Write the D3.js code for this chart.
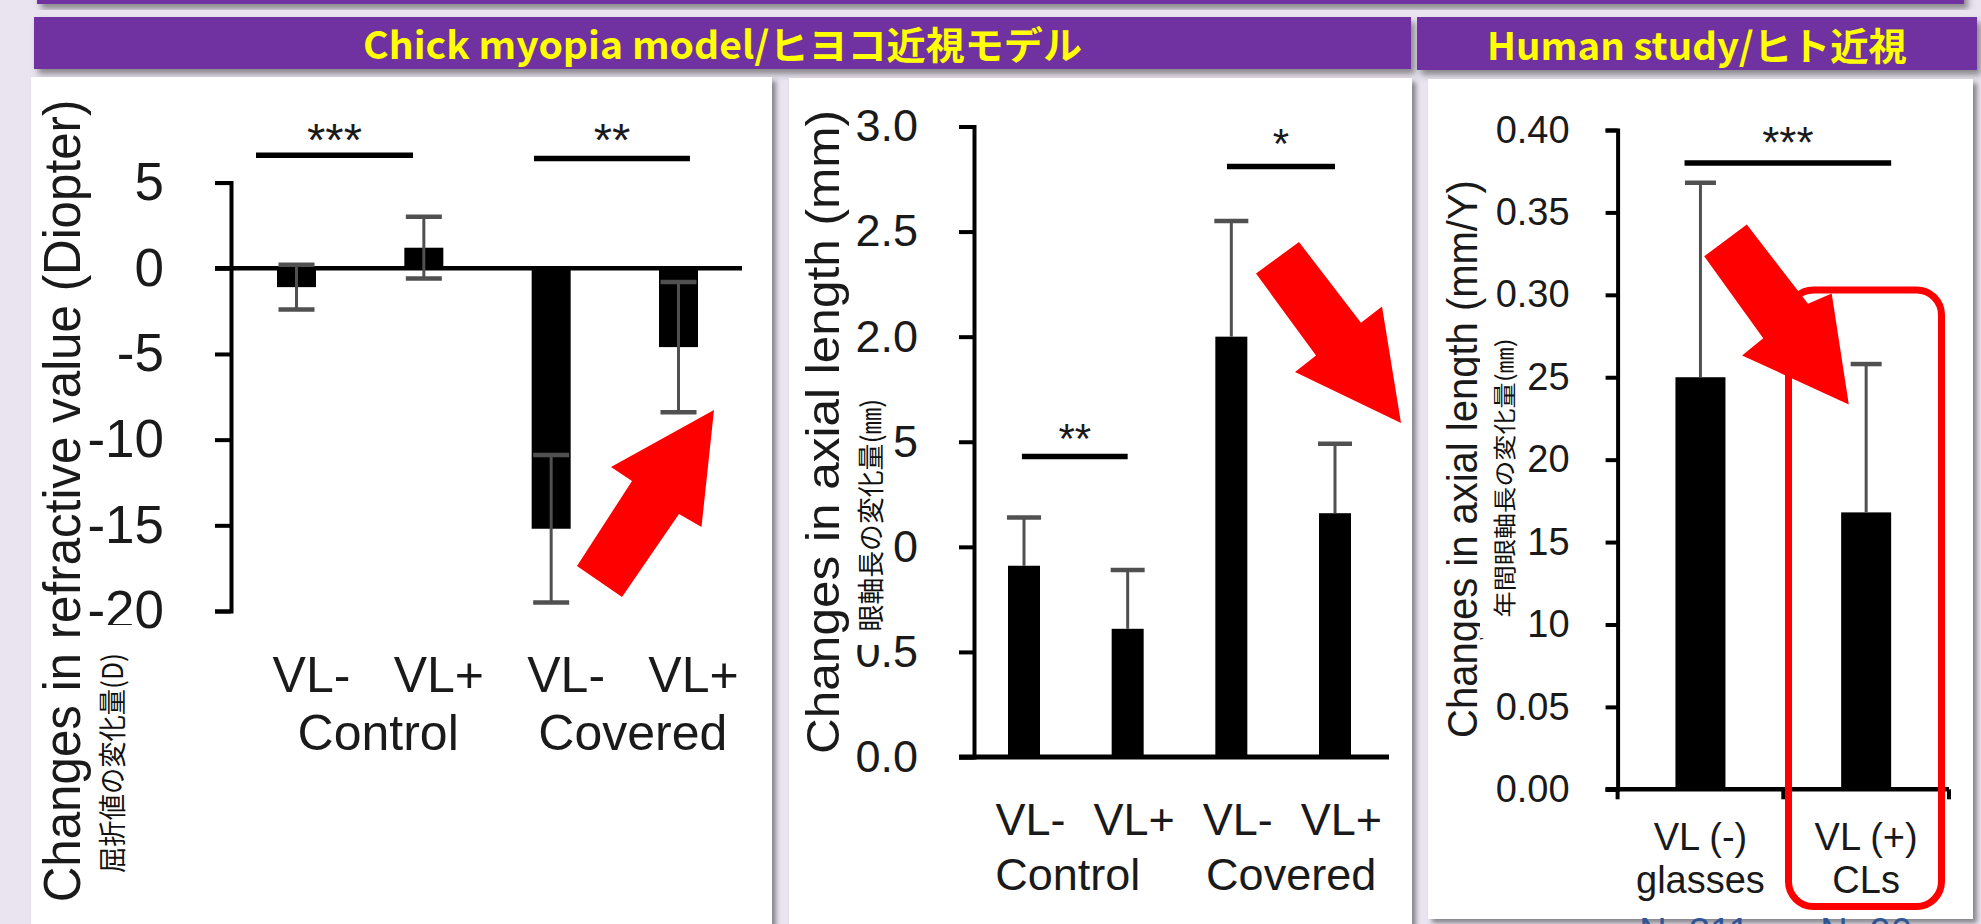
<!DOCTYPE html>
<html>
<head>
<meta charset="utf-8">
<script src="https://cdn.jsdelivr.net/npm/d3@7"></script>
<style>
  html, body { margin: 0; padding: 0; background: #e9e4f0; overflow: hidden; }
  svg { display: block; }
</style>
</head>
<body>
<script>
// ---- Chick myopia model: refraction (D) ----
const chickLight = ["VL-", "VL+", "VL-", "VL+"];
const chickGroup = ["Control", "Covered"];
const refractionMean = [-1.1, 1.2, -15.2, -4.6];
const refractionSD = [1.3, 1.8, 4.3, 3.8];
const refractionTicks = [5, 0, -5, -10, -15, -20];
const refractionSig = ["***", "**"];
const refractionSigLevel = [6.6, 6.4];

// ---- Chick myopia model: axial length (mm) ----
const axialMean = [0.91, 0.61, 2.0, 1.16];
const axialSD = [0.23, 0.28, 0.55, 0.33];
const axialTicks = [3.0, 2.5, 2.0, 1.5, 1.0, 0.5, 0.0];
const axialSig = ["**", "*"];
const axialSigLevel = [1.43, 2.81];

// ---- Human study: axial elongation (mm/Y) ----
const humanGroup = ["VL (-)", "VL (+)"];
const humanDevice = ["glasses", "CLs"];
const humanN = ["N=311", "N=90"];
const humanMean = [0.25, 0.168];
const humanSD = [0.118, 0.090];
const humanTicks = [0.40, 0.35, 0.30, 0.25, 0.20, 0.15, 0.10, 0.05, 0.00];
const humanSig = ["***"];
const humanSigLevel = [0.380];

const W = 1981, H = 924;
const LATIN = "'Liberation Sans', Arial, Helvetica, sans-serif";
const CJK = "'Noto Sans CJK JP', 'Noto Sans', sans-serif";
const RED = "#ff0000";
const PURPLE = "#7030a0";

const svg = d3.select("body").append("svg").attr("width", W).attr("height", H);
svg.append("rect").attr("width", W).attr("height", H).attr("fill", "#e9e4f0");

const defs = svg.append("defs");
const sh = defs.append("filter").attr("id", "shadow")
  .attr("x", "-5%").attr("y", "-5%").attr("width", "115%").attr("height", "130%");
sh.append("feDropShadow").attr("dx", 4).attr("dy", 5).attr("stdDeviation", 3)
  .attr("flood-color", "#3a3a3a").attr("flood-opacity", 0.55);
const psh = defs.append("filter").attr("id", "pshadow")
  .attr("x", "-5%").attr("y", "-5%").attr("width", "110%").attr("height", "110%");
psh.append("feDropShadow").attr("dx", 4).attr("dy", 4).attr("stdDeviation", 2.5)
  .attr("flood-color", "#444").attr("flood-opacity", 0.6);

// ---- banners ----
svg.append("rect").attr("x", 37).attr("y", -20).attr("width", 1927).attr("height", 24)
  .attr("fill", PURPLE).attr("filter", "url(#shadow)");

function banner(x0, x1, y0, y1, label, len) {
  svg.append("rect").attr("x", x0).attr("y", y0).attr("width", x1 - x0).attr("height", y1 - y0)
    .attr("fill", PURPLE).attr("filter", "url(#shadow)");
  svg.append("text").attr("x", (x0 + x1) / 2).attr("y", y1 - 10)
    .attr("text-anchor", "middle").attr("font-family", CJK).attr("font-weight", 700)
    .attr("font-size", 38).attr("fill", "#ffff00")
    .attr("textLength", len).attr("lengthAdjust", "spacingAndGlyphs")
    .text(label);
}
banner(34, 1411, 17, 69, "Chick myopia model/ヒヨコ近視モデル", 719);
banner(1417, 1977, 17, 70, "Human study/ヒト近視", 420);

// ---- white panels ----
const panels = [[31, 77, 772, 1000], [789, 78, 1412, 1000], [1428, 79, 1973, 919]];
panels.forEach(([x0, y0, x1, y1]) => {
  svg.append("rect").attr("x", x0).attr("y", y0).attr("width", x1 - x0).attr("height", y1 - y0)
    .attr("fill", "#fff").attr("filter", "url(#pshadow)");
});

// ---- helpers ----
function leftAxis(scale, ticks, fmt, axX, o) {
  const g = svg.append("g").attr("transform", `translate(${axX},0)`);
  g.call(d3.axisLeft(scale).tickValues(ticks).tickFormat(fmt)
    .tickSize(o.tick).tickPadding(o.pad));
  g.attr("font-family", LATIN).attr("font-size", o.fs);
  g.select(".domain").attr("stroke", "#000").attr("stroke-width", o.sw);
  g.selectAll(".tick line").attr("stroke", "#000").attr("stroke-width", o.sw);
  g.selectAll(".tick text").attr("fill", "#1a1a1a");
  return g;
}
// vertical (bottom-to-top) title, stretched along its run to a given length
function vTitle(x, yMid, label, fs, len, family, fill) {
  const t = svg.append("text")
    .attr("text-anchor", "middle").attr("font-family", family).attr("font-size", fs)
    .attr("fill", fill || "#1a1a1a").text(label);
  const natural = t.node().getComputedTextLength() || len;
  t.attr("transform", `translate(${x},${yMid}) rotate(-90) scale(${len / natural},1)`);
}
function cover(x0, y0, x1, y1) {
  svg.append("rect").attr("x", x0).attr("y", y0).attr("width", x1 - x0).attr("height", y1 - y0)
    .attr("fill", "#fff");
}
function bars(xs, y, means, width) {
  svg.append("g").selectAll("rect").data(means).join("rect")
    .attr("x", (d, i) => xs(i) - width / 2)
    .attr("y", d => Math.min(y(d), y(0)))
    .attr("width", width)
    .attr("height", d => Math.abs(y(d) - y(0)))
    .attr("fill", "#000");
}
function errorBars(xs, y, means, sds, cap, both) {
  const g = svg.append("g").attr("stroke", "#505050");
  means.forEach((m, i) => {
    const x = xs(i);
    const dir = both ? 1 : (m >= 0 ? 1 : -1);
    const hi = m + dir * sds[i];
    const lo = both ? m - sds[i] : m;
    g.append("line").attr("x1", x).attr("x2", x).attr("y1", y(lo)).attr("y2", y(hi))
      .attr("stroke-width", 3);
    const ends = both ? [lo, hi] : [hi];
    ends.forEach(v => g.append("line").attr("x1", x - cap / 2).attr("x2", x + cap / 2)
      .attr("y1", y(v)).attr("y2", y(v)).attr("stroke-width", 4.5));
  });
}
function sigBar(xs, y, from, to, level, label, fs, dy) {
  const yy = y(level);
  svg.append("line").attr("x1", xs(from)).attr("x2", xs(to)).attr("y1", yy).attr("y2", yy)
    .attr("stroke", "#000").attr("stroke-width", 5.5);
  svg.append("text").attr("x", (xs(from) + xs(to)) / 2).attr("y", yy + dy)
    .attr("text-anchor", "middle").attr("font-family", LATIN).attr("font-size", fs)
    .attr("fill", "#1a1a1a").text(label);
}
function labelRow(items, xOf, yBase, fs) {
  svg.append("g").selectAll("text").data(items).join("text")
    .attr("x", (d, i) => xOf(i)).attr("y", yBase)
    .attr("text-anchor", "middle").attr("font-family", LATIN).attr("font-size", fs)
    .attr("fill", "#1a1a1a").text(d => d);
}
function arrow(pts) {
  svg.append("path").attr("d", d3.line()(pts) + "Z").attr("fill", RED);
}
const plain = d => String(d);

// ================= Panel 1: refraction =================
{
  const y = d3.scaleLinear().domain([-20, 5]).range([611, 182.6]);
  const xs = d3.scaleLinear().domain([0, 3]).range([296.5, 678.5]);
  const axX = 231;

  vTitle(80, 501, "Changes in refractive value (Diopter)", 52, 803, LATIN);
  leftAxis(y, refractionTicks, plain, axX, { tick: 16, pad: 51, fs: 53, sw: 4 });
  cover(92, 625, 132, 880);
  vTitle(123, 763, "屈折値の変化量(D)", 28, 220, CJK, "#111");

  bars(xs, y, refractionMean, 39);
  // zero line
  svg.append("line").attr("x1", axX - 16).attr("x2", 742).attr("y1", y(0)).attr("y2", y(0))
    .attr("stroke", "#000").attr("stroke-width", 4.5);
  errorBars(xs, y, refractionMean, refractionSD, 36, true);

  sigBar(xs, y, -0.318, 0.915, refractionSigLevel[0], refractionSig[0], 47, 1);
  sigBar(xs, y, 1.865, 3.09, refractionSigLevel[1], refractionSig[1], 47, -3);

  labelRow(chickLight, i => xs(i) + 15, 692, 50);
  labelRow(chickGroup, i => (xs(2 * i) + xs(2 * i + 1)) / 2 + 18, 750, 50);

  arrow([[714, 410], [611, 467], [632, 481], [577, 566], [622, 597], [679, 514], [701.5, 527]]);
}

// ================= Panel 2: axial length =================
{
  const y = d3.scaleLinear().domain([0, 3]).range([757, 126.5]);
  const xs = d3.scaleLinear().domain([0, 3]).range([1024, 1335]);
  const axX = 974;
  const groupShift = [-8, 8];

  vTitle(839, 432, "Changes in axial length (mm)", 47, 644, LATIN);
  leftAxis(y, axialTicks, d3.format(".1f"), axX, { tick: 15, pad: 41, fs: 45, sw: 4 });
  cover(850, 395, 894, 645);
  vTitle(881, 515, "眼軸長の変化量(㎜)", 27, 233, CJK, "#111");

  bars(xs, y, axialMean, 32);
  svg.append("line").attr("x1", axX - 15).attr("x2", 1389).attr("y1", y(0)).attr("y2", y(0))
    .attr("stroke", "#000").attr("stroke-width", 5);
  errorBars(xs, y, axialMean, axialSD, 34, false);

  sigBar(xs, y, -0.02, 1.0, axialSigLevel[0], axialSig[0], 42, -3);
  sigBar(xs, y, 1.958, 3.0, axialSigLevel[1], axialSig[1], 42, -8);

  labelRow(chickLight, i => xs(i) + 6.5, 835, 45);
  labelRow(chickGroup, i => (xs(2 * i) + xs(2 * i + 1)) / 2 + groupShift[i], 890, 45);

  arrow([[1299, 242], [1256, 273.5], [1316, 355.5], [1295, 372], [1401, 423], [1382, 306.6], [1361, 322.8]]);
}

// ================= Panel 3: human study =================
{
  const y = d3.scaleLinear().domain([0, 0.4]).range([789.3, 130]);
  const band = d3.scaleBand().domain(humanGroup).range([1617.6, 1949]).paddingInner(0).paddingOuter(0);
  const xs = i => band(humanGroup[i]) + band.bandwidth() / 2;
  const axX = 1617.6;

  vTitle(1477, 459, "Changes in axial length (mm/Y)", 42, 558, LATIN);
  leftAxis(y, humanTicks, d3.format(".2f"), axX, { tick: 12, pad: 36, fs: 38, sw: 4 });
  cover(1480, 355, 1527, 638);
  vTitle(1513, 478, "年間眼軸長の変化量(㎜)", 23, 279, CJK, "#111");

  bars(xs, y, humanMean, 50);
  // baseline with ticks at category boundaries
  const y0 = y(0);
  svg.append("line").attr("x1", axX - 12).attr("x2", band.range()[1]).attr("y1", y0).attr("y2", y0)
    .attr("stroke", "#000").attr("stroke-width", 4.5);
  const bounds = [band.range()[0], band(humanGroup[1]), band.range()[1]];
  svg.append("g").selectAll("line").data(bounds).join("line")
    .attr("x1", d => d).attr("x2", d => d).attr("y1", y0).attr("y2", y0 + 10)
    .attr("stroke", "#000").attr("stroke-width", 4);
  errorBars(xs, y, humanMean, humanSD, 31, false);

  const xi = d3.scaleLinear().domain([0, 1]).range([xs(0), xs(1)]);
  sigBar(xi, y, -0.096, 1.151, humanSigLevel[0], humanSig[0], 44, -5);

  labelRow(humanGroup, i => xs(i), 850, 38);
  labelRow(humanDevice, i => xs(i), 893, 38);

  // highlight around the contact-lens group
  svg.append("rect").attr("x", 1788.5).attr("y", 290).attr("width", 153).attr("height", 616.5)
    .attr("rx", 25).attr("ry", 25).attr("fill", "none").attr("stroke", RED).attr("stroke-width", 7);

  arrow([[1746.8, 224.6], [1704.2, 256.3], [1763.2, 338.3], [1742.1, 355.5], [1848.8, 404.4], [1831.7, 293.5], [1808, 303.8]]);

  svg.append("g").selectAll("text").data(humanN).join("text")
    .attr("x", (d, i) => xs(i) - (i === 0 ? 6 : 0)).attr("y", 945)
    .attr("text-anchor", "middle").attr("font-family", LATIN).attr("font-size", 38)
    .attr("fill", "#2f5597").text(d => d);
}
</script>
</body>
</html>
